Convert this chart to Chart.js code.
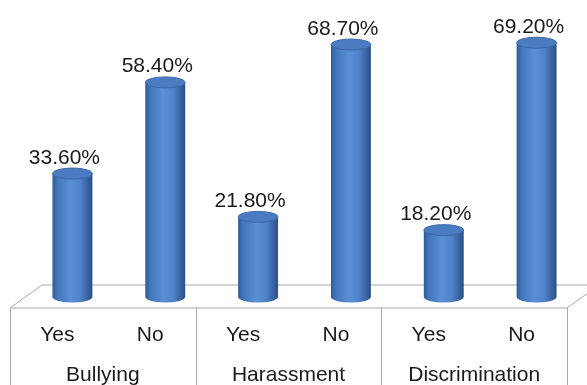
<!DOCTYPE html>
<html>
<head>
<meta charset="utf-8">
<script src="https://cdn.jsdelivr.net/npm/chart.js@4"></script>
<style>
  body { margin: 0; background: #fff; }
  #wrap { width: 587px; height: 385px; position: relative; }
</style>
</head>
<body>
<div id="wrap"><canvas id="chart"></canvas></div>
<script>
// data
var groups = ['Bullying', 'Harassment', 'Discrimination'];
var answers = ['Yes', 'No'];
var values = [33.6, 58.4, 21.8, 68.7, 18.2, 69.2];

var labels = [];
groups.forEach(function (g) {
  answers.forEach(function (a) { labels.push(a); });
});

var FONT = '"Liberation Sans", Arial, sans-serif';

// 3d-ish floor, drawn under the cylinders
var floorPlugin = {
  id: 'floor',
  beforeDatasetsDraw: function (chart) {
    var ctx = chart.ctx;
    var area = chart.chartArea;
    var base = chart.scales.y.getPixelForValue(0);
    var frontY = base + 11, backY = base - 12;
    var fl = area.left - 16, fr = area.right - 16;
    var bl = area.left + 16, br = area.right + 16;
    ctx.save();
    ctx.strokeStyle = '#a9a9a9';
    ctx.lineWidth = 1;
    ctx.beginPath();
    ctx.moveTo(fl, frontY); ctx.lineTo(bl, backY); ctx.lineTo(br, backY);
    ctx.moveTo(fl, frontY); ctx.lineTo(fr, frontY); ctx.lineTo(br, backY);
    // group dividers on the front face
    var step = (fr - fl) / groups.length;
    for (var i = 0; i <= groups.length; i++) {
      var x = Math.round(fl + step * i) + 0.5;
      ctx.moveTo(x, frontY);
      ctx.lineTo(x, chart.height);
    }
    ctx.stroke();

    // axis text
    ctx.fillStyle = '#1a1a1a';
    ctx.font = '21px ' + FONT;
    ctx.textAlign = 'center';
    ctx.textBaseline = 'middle';
    var meta = chart.getDatasetMeta(0);
    meta.data.forEach(function (bar, i) {
      ctx.fillText(labels[i], bar.x - 15, frontY + 27);
    });
    groups.forEach(function (g, i) {
      ctx.fillText(g, fl + step * (i + 0.5), frontY + 67);
    });
    ctx.restore();
  }
};

function cylinder(ctx, x, top, base, w) {
  var rx = w / 2, ry = 5.5;
  var g = ctx.createLinearGradient(x - rx, 0, x + rx, 0);
  g.addColorStop(0, '#2e5a96');
  g.addColorStop(0.12, '#4176bb');
  g.addColorStop(0.45, '#5b8fd5');
  g.addColorStop(0.7, '#4f83c9');
  g.addColorStop(1, '#2a4f86');
  ctx.beginPath();
  ctx.moveTo(x - rx, top);
  ctx.lineTo(x - rx, base);
  ctx.ellipse(x, base, rx, ry, 0, Math.PI, 0, true);
  ctx.lineTo(x + rx, top);
  ctx.closePath();
  ctx.fillStyle = g;
  ctx.fill();

  ctx.beginPath();
  ctx.ellipse(x, top, rx, ry, 0, 0, Math.PI * 2);
  ctx.fillStyle = '#4b7cc2';
  ctx.fill();
  ctx.strokeStyle = '#3b68a8';
  ctx.lineWidth = 1;
  ctx.stroke();
}

var cylinderPlugin = {
  id: 'cylinders',
  afterDatasetsDraw: function (chart) {
    var ctx = chart.ctx;
    var meta = chart.getDatasetMeta(0);
    ctx.save();
    meta.data.forEach(function (bar, i) {
      cylinder(ctx, bar.x, bar.y, bar.base, bar.width);
      ctx.fillStyle = '#1a1a1a';
      ctx.font = '21px ' + FONT;
      ctx.textAlign = 'center';
      ctx.textBaseline = 'alphabetic';
      ctx.fillText(values[i].toFixed(2) + '%', bar.x - 8, bar.y - 10);
    });
    ctx.restore();
  }
};

new Chart(document.getElementById('chart'), {
  type: 'bar',
  data: {
    labels: labels,
    datasets: [{
      data: values,
      backgroundColor: 'rgba(0,0,0,0)',
      borderWidth: 0,
      barPercentage: 0.43,
      categoryPercentage: 1
    }]
  },
  options: {
    responsive: true,
    maintainAspectRatio: false,
    animation: false,
    layout: { padding: { left: 26, right: 4, top: 3, bottom: 88 } },
    plugins: { legend: { display: false }, tooltip: { enabled: false } },
    scales: {
      x: { display: false },
      y: { display: false, min: 0, max: 80 }
    }
  },
  plugins: [floorPlugin, cylinderPlugin]
});
</script>
</body>
</html>
